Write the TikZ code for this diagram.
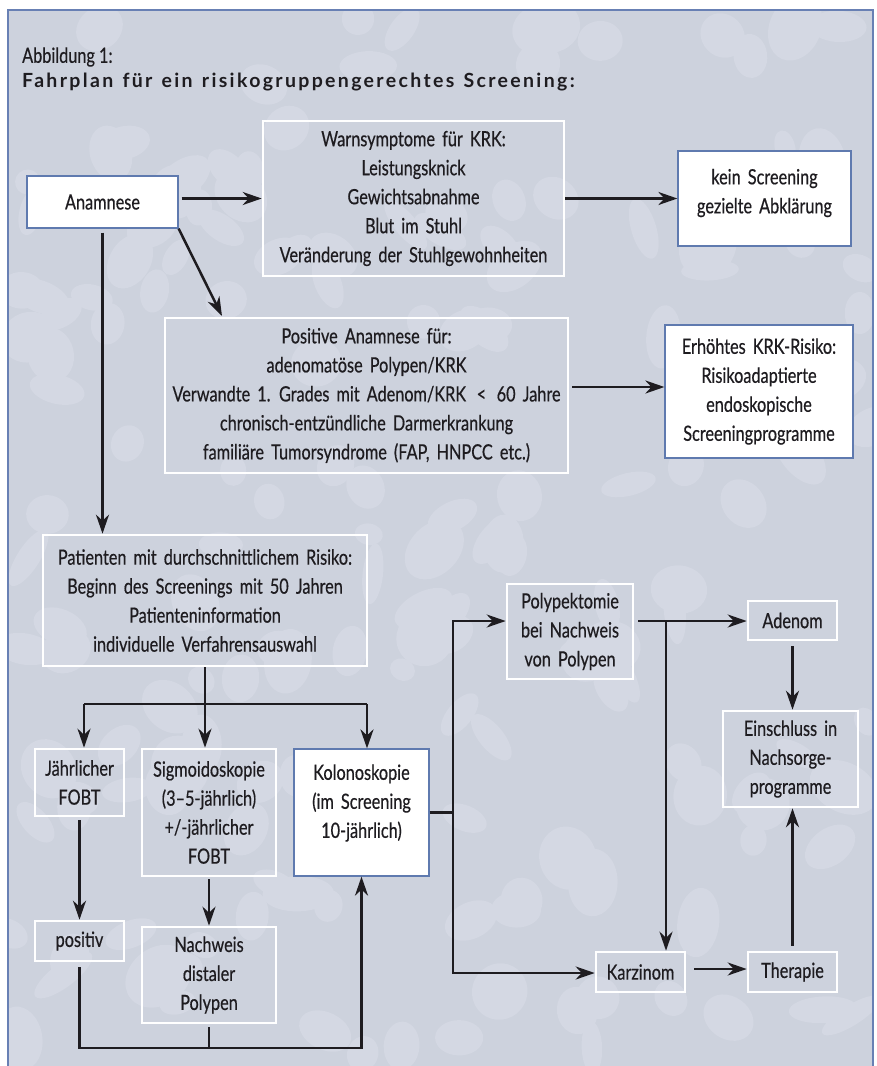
\documentclass[tikz,border=0pt]{standalone}
\usepackage{fontspec}
\setmainfont{Lato}
\newfontfamily\bodyfont{Lato}[Ligatures=TeX,FakeStretch=0.775,WordSpace=1.7,FakeBold=0.5]
\newfontfamily\condfont{Lato}[Ligatures=TeX,FakeStretch=0.775,FakeBold=0.4]
\newfontfamily\titlefont{Lato}[LetterSpace=12.0,WordSpace=1.3]
\usetikzlibrary{arrows.meta}
\definecolor{bgcol}{RGB}{205,210,221}
\definecolor{blobcol}{RGB}{212,216,227}
\definecolor{framecol}{RGB}{104,128,180}
\definecolor{boxblue}{RGB}{95,122,175}
\definecolor{ink}{RGB}{30,28,32}
\tikzset{
  txt/.style={align=center, text=ink, font=\bodyfont\fontsize{21pt}{29pt}\selectfont, inner sep=0pt},
  wbox/.style={txt, draw=white, line width=2.6pt},
  bbox/.style={txt, draw=boxblue, line width=1.2pt, fill=white},
  conn/.style={draw=ink, line width=2.5pt},
  arr/.style={conn, -{Stealth[length=19pt,width=13pt,inset=6pt]}},
  arrboth/.style={conn, {Stealth[length=19pt,width=13pt,inset=6pt]}-{Stealth[length=19pt,width=13pt,inset=6pt]}},
}
\begin{document}
\begin{tikzpicture}[x=1pt,y=-1pt]
\useasboundingbox (0,0) rectangle (876,1066);
% background
\fill[white] (0,0) rectangle (876,1066);
\fill[bgcol] (8,10) rectangle (873,1066);
\begin{scope}
\clip (8,10) rectangle (873,1066);
\pgfmathsetseed{11}
\foreach \i in {1,...,170}{
  \pgfmathsetmacro\bx{8+865*rnd}
  \pgfmathsetmacro\by{10+1056*rnd}
  \pgfmathsetmacro\rx{12+24*rnd}
  \pgfmathsetmacro\ry{10+20*rnd}
  \pgfmathsetmacro\ang{180*rnd}
  \fill[blobcol, rotate around={\ang:(\bx,\by)}] (\bx,\by) ellipse [x radius=\rx pt, y radius=\ry pt];
}
\end{scope}
\draw[framecol, line width=2.6pt] (8,1066) -- (8,10) -- (873,10) -- (873,1066);

% titles
\node[anchor=west, text=ink, font=\condfont\fontsize{21pt}{24pt}\selectfont, inner sep=0pt] (cap) at (22,57) {Abbildung 1:};
\node[anchor=west, text=ink, font=\titlefont\bfseries\fontsize{19.5pt}{22pt}\selectfont, inner sep=0pt] (title) at (22,82) {Fahrplan für ein risikogruppengerechtes Screening:};

% boxes
\node[bbox, minimum width=151pt, minimum height=52pt] (anam) at (102.5,202) {Anamnese};
\node[wbox, minimum width=301pt, minimum height=155pt] (warn) at (413.5,198.5) {Warnsymptome für KRK:\\Leistungsknick\\Gewichtsabnahme\\Blut im Stuhl\\Veränderung der Stuhlgewohnheiten};
\node[bbox, minimum width=173pt, minimum height=95pt] (kein) at (764.5,198.5) {};
\node[txt] (keint) at (764.5,193) {kein Screening\\gezielte Abklärung};
\node[wbox, minimum width=403pt, minimum height=155pt] (pos) at (366.5,395.5) {Positive Anamnese für:\\adenomatöse Polypen/KRK\\Verwandte 1. Grades mit Adenom/KRK \,<\, 60 Jahre\\chronisch-entzündliche Darmerkrankung\\familiäre Tumorsyndrome (FAP, HNPCC etc.)};
\node[bbox, minimum width=188pt, minimum height=133pt] (erh) at (759,391.5) {Erhöhtes KRK-Risiko:\\Risikoadaptierte\\endoskopische\\Screeningprogramme};
\node[wbox, minimum width=324pt, minimum height=131pt] (pat) at (205,600.5) {Patienten mit durchschnittlichem Risiko:\\Beginn des Screenings mit 50 Jahren\\Patienteninformation\\individuelle Verfahrensauswahl};
\node[wbox, minimum width=89pt, minimum height=67pt] (jahr) at (79.5,782.5) {Jährlicher\\FOBT};
\node[wbox, minimum width=134pt, minimum height=127pt] (sig) at (209,812.5) {Sigmoidoskopie\\(3–5-jährlich)\\+/-jährlicher\\FOBT};
\node[bbox, minimum width=135pt, minimum height=127pt] (kolo) at (361.5,812.5) {};
\node[txt] (kolot) at (361.5,803) {Kolonoskopie\\(im Screening\\10-jährlich)};
\node[wbox, minimum width=89pt, minimum height=40pt] (posit) at (79.5,941) {positiv};
\node[wbox, minimum width=134pt, minimum height=96pt] (nach) at (209,975) {Nachweis\\distaler\\Polypen};
\node[wbox, minimum width=126pt, minimum height=95pt] (poly) at (570,631.5) {Polypektomie\\bei Nachweis\\von Polypen};
\node[wbox, minimum width=89pt, minimum height=39pt] (aden) at (792.5,620.5) {Adenom};
\node[wbox, minimum width=135pt, minimum height=96pt] (ein) at (790.5,759) {Einschluss in\\Nachsorge-\\programme};
\node[wbox, minimum width=89pt, minimum height=40pt] (karz) at (640.5,972) {Karzinom};
\node[wbox, minimum width=89pt, minimum height=40pt] (ther) at (792.5,972) {Therapie};

% helper coordinates
\coordinate (pn) at (222,316);
\coordinate (jl) at (84,704);
\coordinate (jr) at (367,704);
\coordinate (jm) at (205,704);
\coordinate (b1) at (80,1048);
\coordinate (v1) at (453,621);
\coordinate (v2) at (453,973);
\coordinate (pb) at (666,621);
\coordinate (pe) at (568,387);
\coordinate (kt) at (0,969);

% connectors
\draw[arr, shorten <=3pt] (warn.west -| anam.east) -- (warn.west);
\draw[arr] (warn.east) -- (kein.west);
\draw[arr] (anam.south east) -- (pn);
\draw[arr, shorten <=4pt] (anam.south) -- (anam.south |- pat.north);
\draw[arr, shorten <=4pt] (pe) -- (pe -| erh.west);
\draw[conn] (pat.south) -- (jm);
\draw[conn] (jl) -- (jr);
\draw[arr] (jl) -- (jl |- jahr.north);
\draw[arr] (jm) -- (jm |- sig.north);
\draw[arr] (jr) -- (jr |- kolo.north);
\draw[arr, shorten <=3pt] (jahr.south) -- (posit.north);
\draw[arr, shorten <=2pt] (sig.south) -- (nach.north);
\draw[arr, shorten <=5pt] (posit.south) -- (posit.south |- b1) -- (kolo.south |- b1) -- (kolo.south);
\draw[conn, shorten <=3pt] (nach.south) -- (nach.south |- b1);
\draw[conn] (kolo.east) -- (kolo.east -| v1);
\draw[arrboth] (v1 -| poly.west) -- (v1) -- (v2) -- (v2 -| karz.west);
\draw[arr, shorten <=4pt] (v1 -| poly.east) -- (v1 -| aden.west);
\draw[arr] (pb) -- (pb |- karz.north);
\draw[arr, shorten <=5pt] (aden.south) -- (aden.south |- ein.north);
\draw[arr, shorten <=8pt] (karz.east |- kt) -- (ther.west |- kt);
\draw[arr, shorten <=5pt] (ther.north) -- (ther.north |- ein.south);
\end{tikzpicture}
\end{document}
